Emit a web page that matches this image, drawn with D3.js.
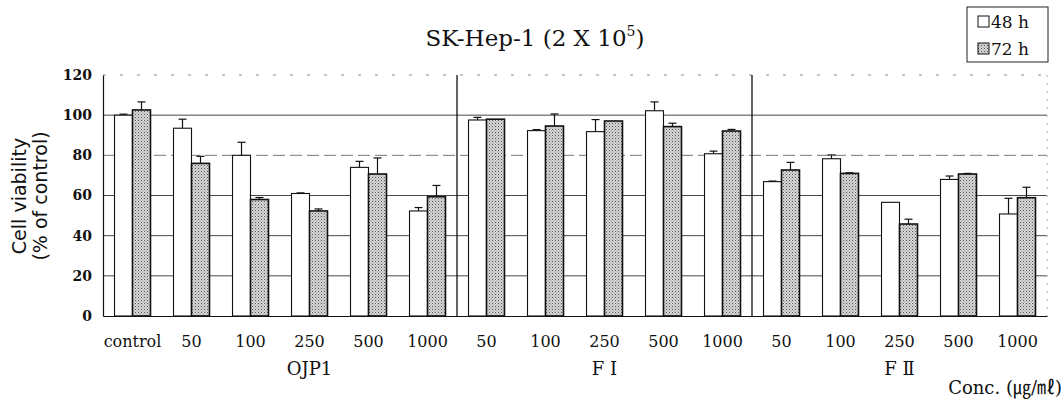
<!DOCTYPE html>
<html>
<head>
<meta charset="utf-8">
<script src="https://cdn.jsdelivr.net/npm/d3@7"></script>
<style>
  body { margin: 0; background: #fff; }
  svg text { fill: #111; }
</style>
</head>
<body>
<svg id="chart" width="1064" height="403"></svg>
<script>
// concentrations along the x axis, grouped by extract
const concLabels = ['control', '50', '100', '250', '500', '1000',
                    '50', '100', '250', '500', '1000',
                    '50', '100', '250', '500', '1000'];
const groups = ['OJP1', 'F Ⅰ', 'F Ⅱ'];
const groupOf = [0, 0, 0, 0, 0, 0, 1, 1, 1, 1, 1, 2, 2, 2, 2, 2];

const series = ['48 h', '72 h'];
const v48 = [100, 93.5, 80, 61, 74, 52.3, 97.6, 92.3, 91.8, 102.2, 80.8, 66.9, 78.3, 56.6, 68, 50.8];
const e48 = [0.5, 4.5, 6.5, 0.3, 3, 1.7, 1.3, 0.5, 6, 4.4, 1.3, 0.3, 1.9, 0, 1.7, 7.8];
const v72 = [102.6, 76, 58, 52.3, 70.7, 59.4, 98, 94.6, 97.1, 94.3, 92.1, 72.7, 71, 45.8, 70.7, 58.9];
const e72 = [4, 3.5, 1, 1, 8, 5.6, 0, 6, 0, 1.7, 0.8, 3.8, 0.3, 2.4, 0.3, 5.2];

const yTicks = [0, 20, 40, 60, 80, 100, 120];

const svg = d3.select('#chart');
const margin = {left: 103, right: 17, top: 75, bottom: 87};
const W = 1064, H = 403;

const idx = d3.range(concLabels.length);
const x = d3.scaleBand()
  .domain(idx)
  .range([margin.left, W - margin.right])
  .paddingInner(0)
  .paddingOuter(0);

const y = d3.scaleLinear()
  .domain([0, 120])
  .range([H - margin.bottom, margin.top]);

const inner = d3.scaleBand()
  .domain(series)
  .range([0, x.bandwidth()])
  .paddingInner(0)
  .paddingOuter(0.64);

// gridlines
svg.append('g')
  .selectAll('line')
  .data(yTicks.filter(d => d > 0))
  .join('line')
    .attr('x1', margin.left)
    .attr('x2', W - margin.right)
    .attr('y1', d => y(d))
    .attr('y2', d => y(d))
    .attr('stroke', d => d === 120 ? '#888' : (d === 80 ? '#666' : '#333'))
    .attr('stroke-width', d => d === 120 ? 1 : 0.9)
    .attr('stroke-dasharray', d => d === 120 ? '3,14' : (d === 80 ? '12,5' : null));

// right edge, dotted
svg.append('line')
  .attr('x1', W - margin.right).attr('x2', W - margin.right)
  .attr('y1', y(120)).attr('y2', y(0))
  .attr('stroke', '#aaa')
  .attr('stroke-dasharray', '2,6');

// group separators
[6, 11].forEach(i => {
  svg.append('line')
    .attr('x1', x(i)).attr('x2', x(i))
    .attr('y1', y(120)).attr('y2', y(0))
    .attr('stroke', '#111')
    .attr('stroke-width', 1.3);
});

// halftone-like pattern for 72 h bars
const defs = svg.append('defs');
const pat = defs.append('pattern')
  .attr('id', 'dots')
  .attr('width', 3).attr('height', 3)
  .attr('patternUnits', 'userSpaceOnUse');
pat.append('rect').attr('width', 3).attr('height', 3).attr('fill', '#d6d6d6');
pat.append('rect').attr('x', 0).attr('y', 0).attr('width', 1).attr('height', 1).attr('fill', '#555');
pat.append('rect').attr('x', 1.5).attr('y', 1.5).attr('width', 1).attr('height', 1).attr('fill', '#888');

const rows = idx.map(i => [
  {i, s: '48 h', v: v48[i], e: e48[i]},
  {i, s: '72 h', v: v72[i], e: e72[i]}
]).flat();

// error bars (upper only)
const eb = svg.append('g').attr('stroke', '#111').attr('stroke-width', 1.2);
rows.filter(d => d.e > 0).forEach(d => {
  const cx = x(d.i) + inner(d.s) + inner.bandwidth() / 2;
  eb.append('line')
    .attr('x1', cx).attr('x2', cx)
    .attr('y1', y(d.v)).attr('y2', y(d.v + d.e));
  eb.append('line')
    .attr('x1', cx - 4).attr('x2', cx + 4)
    .attr('y1', y(d.v + d.e)).attr('y2', y(d.v + d.e));
});

// bars
svg.append('g')
  .selectAll('rect')
  .data(rows)
  .join('rect')
    .attr('x', d => x(d.i) + inner(d.s))
    .attr('y', d => y(d.v))
    .attr('width', inner.bandwidth())
    .attr('height', d => y(0) - y(d.v))
    .attr('fill', d => d.s === '48 h' ? '#fff' : 'url(#dots)')
    .attr('stroke', '#111')
    .attr('stroke-width', d => d.s === '48 h' ? 1.1 : 1.6);

// axes
const yAxis = svg.append('g')
  .attr('transform', `translate(${margin.left},0)`)
  .call(d3.axisLeft(y).tickValues(yTicks).tickSize(0).tickPadding(11));
yAxis.select('.domain').attr('stroke', '#111').attr('stroke-width', 1.2);
yAxis.selectAll('text')
  .attr('font-family', '"DejaVu Serif", serif')
  .attr('font-weight', 'bold')
  .attr('font-size', 14);

const xAxis = svg.append('g')
  .attr('transform', `translate(0,${y(0)})`)
  .call(d3.axisBottom(x).tickSize(0).tickPadding(20).tickFormat(i => concLabels[i]));
xAxis.select('.domain').attr('stroke', '#111').attr('stroke-width', 1.2);
xAxis.selectAll('text')
  .attr('font-family', '"DejaVu Serif", serif')
  .attr('font-size', 16);

// group labels
groups.forEach((g, k) => {
  const members = idx.filter(i => groupOf[i] === k && concLabels[i] !== 'control');
  const cx = (x(members[0]) + x(members[members.length - 1]) + x.bandwidth()) / 2;
  svg.append('text')
    .attr('x', cx)
    .attr('y', 375)
    .attr('text-anchor', 'middle')
    .attr('font-family', '"DejaVu Serif", serif')
    .attr('font-size', 18)
    .text(g);
});

svg.append('text')
  .attr('x', 1062).attr('y', 394)
  .attr('text-anchor', 'end')
  .attr('font-family', '"DejaVu Serif", "Noto Sans CJK KR", serif')
  .attr('font-size', 18)
  .text('Conc. (㎍/㎖)');

// y title
const yt = svg.append('text')
  .attr('transform', 'translate(26,196) rotate(-90)')
  .attr('text-anchor', 'middle')
  .attr('font-family', '"DejaVu Sans", sans-serif')
  .attr('font-size', 19);
yt.append('tspan').attr('x', 0).attr('dy', 0).text('Cell viability');
yt.append('tspan').attr('x', 0).attr('dy', 21).text('(% of control)');

// title
const title = svg.append('text')
  .attr('x', 535).attr('y', 46)
  .attr('text-anchor', 'middle')
  .attr('font-family', '"DejaVu Serif", serif')
  .attr('font-size', 23);
title.append('tspan').text('SK-Hep-1 (2 X 10');
title.append('tspan').attr('dy', -10).attr('font-size', 14).text('5');
title.append('tspan').attr('dy', 10).text(')');

// legend
const lg = svg.append('g');
lg.append('rect')
  .attr('x', 967).attr('y', 7).attr('width', 81).attr('height', 55)
  .attr('fill', '#fff').attr('stroke', '#222').attr('stroke-width', 1);
series.forEach((s, k) => {
  lg.append('rect')
    .attr('x', 978).attr('y', 16 + k * 27)
    .attr('width', 11).attr('height', 11)
    .attr('fill', k === 0 ? '#fff' : 'url(#dots)')
    .attr('stroke', '#111');
  lg.append('text')
    .attr('x', 991).attr('y', 28 + k * 27)
    .attr('font-family', '"DejaVu Serif", serif')
    .attr('font-size', 17)
    .text(s);
});
</script>
</body>
</html>
